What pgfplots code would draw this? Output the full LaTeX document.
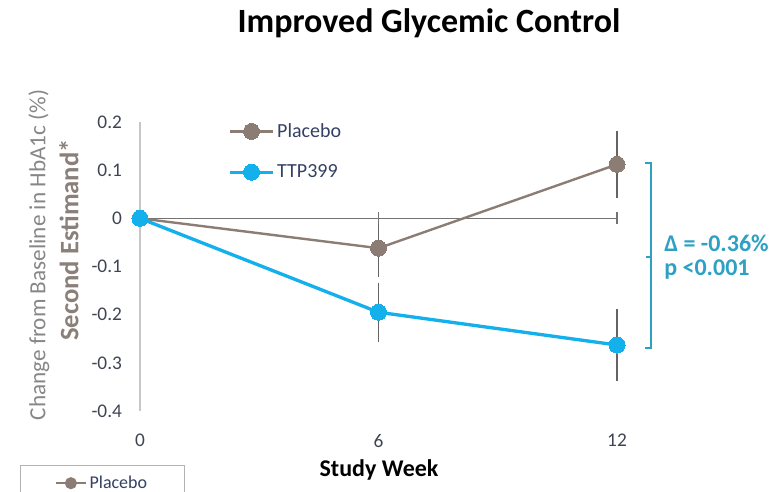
\documentclass[border=0pt]{standalone}
\usepackage{fontspec}
\setmainfont{Carlito}
\usepackage{graphicx}
\usepackage{pgfplots}
\pgfplotsset{compat=1.18}
\definecolor{placebo}{RGB}{139,125,116}
\definecolor{ttp}{RGB}{20,176,236}
\definecolor{annot}{RGB}{45,160,196}
\definecolor{tickc}{RGB}{62,68,82}
\definecolor{legc}{RGB}{52,64,100}
\definecolor{ylabA}{RGB}{135,135,135}
\definecolor{ylabB}{RGB}{139,128,121}
\definecolor{errc}{RGB}{100,100,100}

\pgfplotstableread{
x y e
0 0 0
6 -0.062 0.050
12 0.112 0.060
}\placebodata
\pgfplotstableread{
x y e
0 0 0
6 -0.195 0.052
12 -0.263 0.065
}\ttpdata

\begin{document}
\begin{tikzpicture}
\begin{axis}[
  at={(0,0)}, anchor=south west,
  scale only axis, width=357.75pt, height=216.75pt,
  xmin=0, xmax=12, ymin=-0.4, ymax=0.2,
  clip=false,
  axis x line*=bottom, axis y line*=left,
  axis line style={-},
  x axis line style={draw=none},
  y axis line style={draw=black!22, line width=0.8pt},
  xtick={0,6,12}, xticklabels={0,6,12},
  ytick={-0.4,-0.3,-0.2,-0.1,0,0.1,0.2},
  yticklabels={-0.4,-0.3,-0.2,-0.1,0,0.1,0.2},
  major tick length=0pt,
  tick label style={font=\fontsize{14.5}{17}\selectfont, text=tickc},
  yticklabel style={xshift=-10pt},
  xticklabel style={yshift=-14pt},
  legend style={draw=none, fill=none, at={(0.185,1.005)}, anchor=north west,
    font=\fontsize{15}{18}\selectfont, text=legc, row sep=15pt, inner sep=0pt},
  legend cell align=left,
  legend image code/.code={\draw[mark repeat=2,mark phase=2,#1] plot coordinates {(0pt,0pt)(16pt,0pt)(32pt,0pt)};},
]
\addplot[forget plot, draw=black!55, line width=0.9pt, mark=|, mark indices={2,3}, mark size=4.5pt, mark options={solid, draw=black!55, line width=0.9pt}]
  coordinates {(0,0) (6,0) (12,0)};
\addplot[placebo, line width=1.8pt, mark=*, mark size=6pt,
  mark options={solid, fill=placebo, draw=placebo, line width=0pt},
  error bars/.cd, y dir=both, y explicit,
  error bar style={errc, line width=0.9pt},
  error mark options={errc, mark size=3.5pt, line width=0.9pt}]
  table[x=x, y=y, y error=e] {\placebodata};
\addlegendentry{Placebo}
\addplot[ttp, line width=2.5pt, mark=*, mark size=6pt,
  mark options={solid, fill=ttp, draw=ttp, line width=0pt},
  error bars/.cd, y dir=both, y explicit,
  error bar style={errc, line width=0.9pt},
  error mark options={errc, mark size=3.5pt, line width=0.9pt}]
  table[x=x, y=y, y error=e] {\ttpdata};
\addlegendentry{TTP399}
\end{axis}
\begin{axis}[
  at={(0,0)}, anchor=south west,
  scale only axis, width=357.75pt, height=216.75pt,
  hide axis, xmin=0, xmax=1, ymin=0, ymax=1,
  legend style={at={(-0.2516,-0.1869)}, anchor=north west, draw=black!30, fill=white,
    inner xsep=26pt, inner ysep=6pt, font=\fontsize{13.5}{16}\selectfont, text=legc},
  legend image code/.code={\draw[mark repeat=2,mark phase=2,#1] plot coordinates {(0pt,0pt)(11.25pt,0pt)(22.5pt,0pt)};},
]
\addlegendimage{placebo, line width=1.5pt, mark=*, mark size=3.75pt, mark options={solid, fill=placebo, draw=placebo}}
\addlegendentry{Placebo}
\end{axis}
\begin{scope}[shift={(-105pt,308.25pt)}, x=0.75pt, y=-0.75pt]
  \draw[annot, line width=1.2pt] (645,163) -- (651,163) -- (651,348) -- (645,348);
  \draw[annot, line width=1.2pt] (651,257) -- (646,257);
  \node[anchor=west, inner sep=0pt, text=annot, font=\bfseries\fontsize{18}{20}\selectfont] at (664,243) {Δ = -0.36\%};
  \node[anchor=west, inner sep=0pt, text=annot, font=\bfseries\fontsize{18}{20}\selectfont] at (664,270) {p <0.001};
  \node[font=\bfseries\fontsize{25.5}{28}\selectfont] at (429,23) {Improved Glycemic Control};
  \node[rotate=90, text=ylabA, font=\fontsize{17.4}{19}\selectfont] at (39,255) {Change from Baseline in HbA1c (\%)};
  \node[rotate=90, text=ylabB, font=\bfseries\fontsize{20}{22}\selectfont] at (69,240) {Second Estimand*};
  \node[font=\bfseries\fontsize{18}{20}\selectfont] at (379,470) {Study Week};
  \pgfresetboundingbox
  \useasboundingbox (0,0) rectangle (782,492);
\end{scope}
\end{tikzpicture}
\end{document}
